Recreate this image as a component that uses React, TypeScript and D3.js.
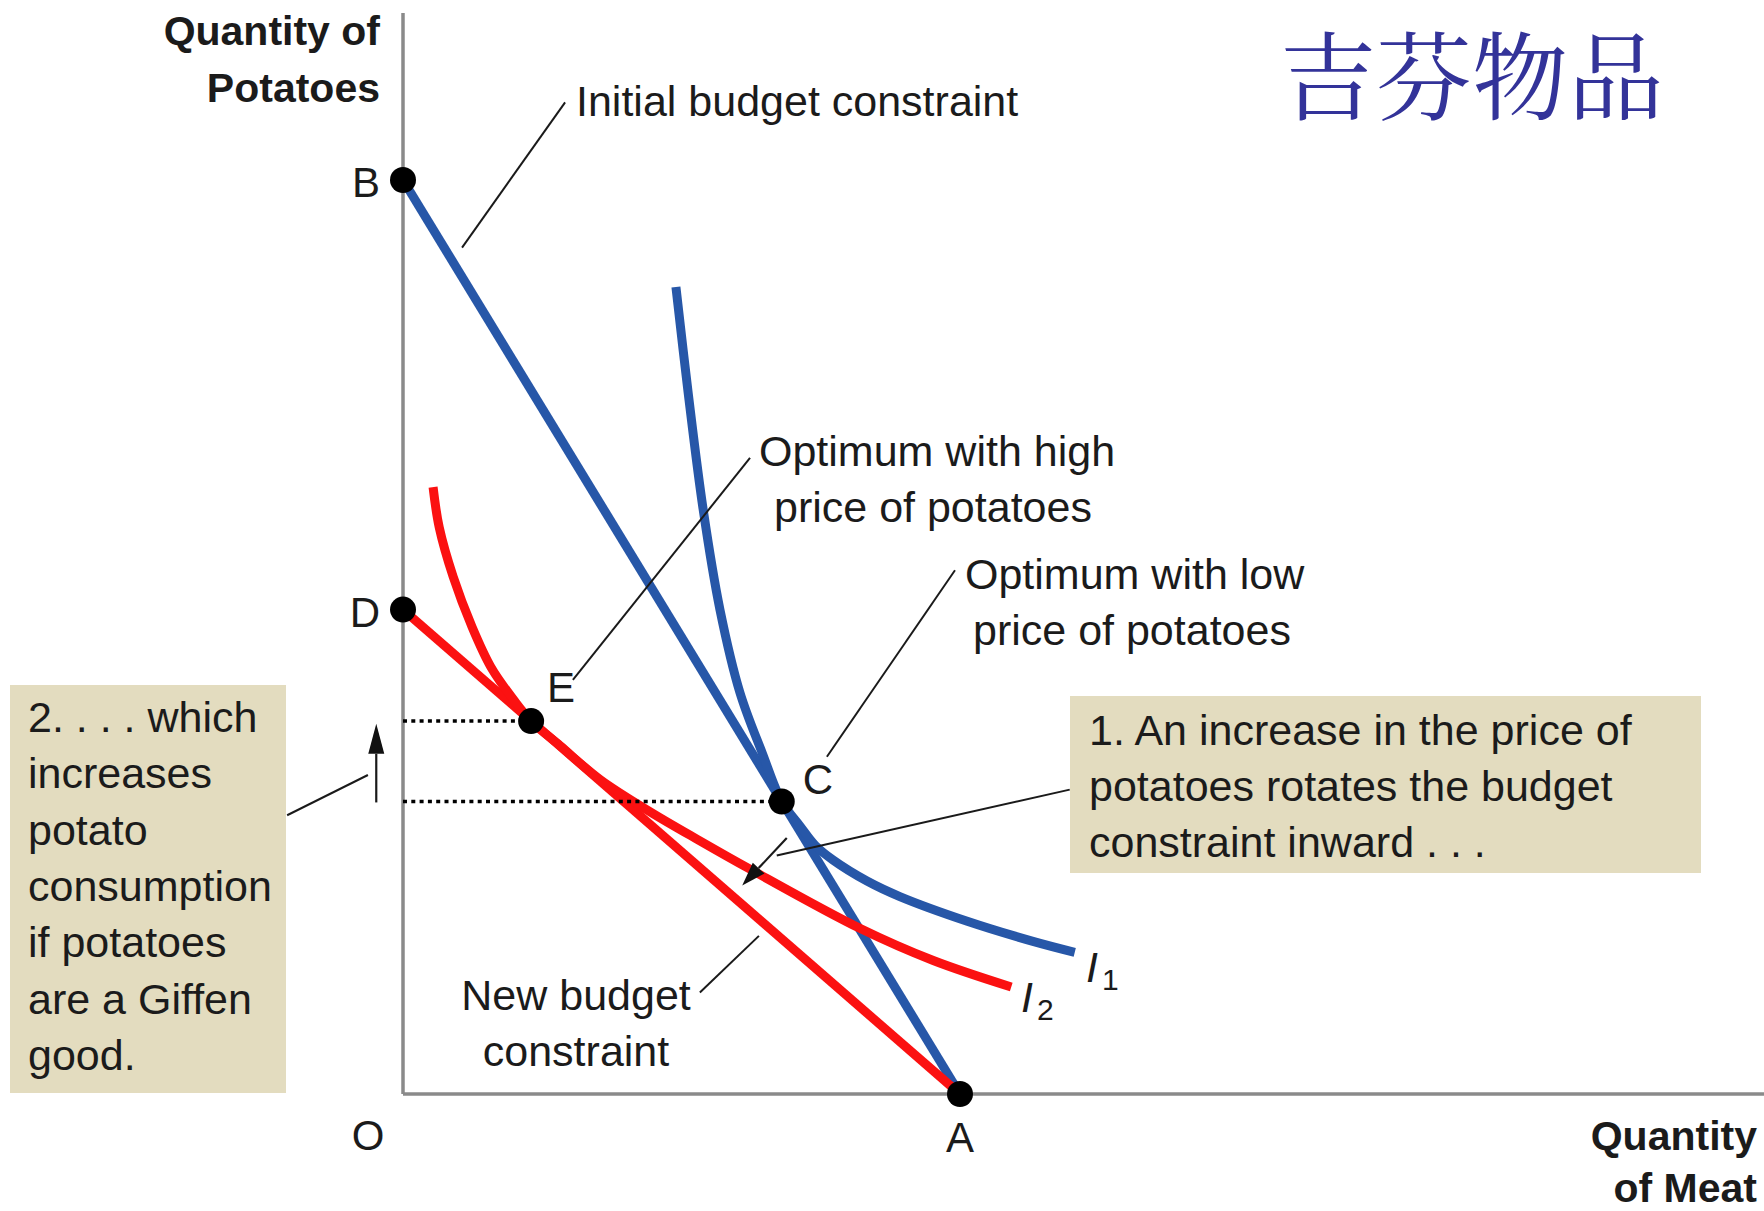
import React, { useEffect } from 'react';
import * as d3 from 'd3';

const W = 1764;
const H = 1211;

// ---- data (quantities, arbitrary units: A = 10 units of meat, B = 10 units of potatoes)
const initialBudget: [number, number][] = [[0, 10], [10, 0]];
const newBudget: [number, number][] = [[0, 5.3], [10, 0]];
const pointB: [number, number] = [0, 10];
const pointD: [number, number] = [0, 5.3];
const pointA: [number, number] = [10, 0];
const pointE: [number, number] = [2.3, 4.08];
const pointC: [number, number] = [6.8, 3.2];

const curveI1: [number, number][] = [
  [4.90, 8.83], [5.12, 7.67], [5.39, 6.39], [5.69, 5.30], [6.05, 4.39], [6.45, 3.73],
  [6.80, 3.20], [7.13, 2.93], [7.40, 2.72], [7.72, 2.56], [8.33, 2.33], [8.92, 2.16],
  [10.13, 1.89], [11.31, 1.67], [12.06, 1.55],
];
const curveI2: [number, number][] = [
  [0.54, 6.64], [0.65, 6.20], [0.90, 5.66], [1.24, 5.11], [1.58, 4.67], [1.99, 4.31],
  [2.30, 4.08], [2.82, 3.81], [3.54, 3.44], [4.43, 3.09], [5.33, 2.77], [6.23, 2.46],
  [8.21, 1.81], [9.52, 1.46], [10.92, 1.17],
];

// annotation leader lines (data units)
const leaderLines: [number, number][][] = [
  [[1.06, 9.26], [2.91, 10.85]],
  [[3.05, 4.53], [6.23, 6.96]],
  [[7.61, 3.69], [9.91, 5.73]],
  [[11.97, 3.33], [6.71, 2.61]],
  [[6.39, 1.73], [5.33, 1.11]],
  [[-2.08, 3.05], [-0.63, 3.49]],
];
const arrowLines: [number, number][][] = [
  [[6.89, 2.80], [6.09, 2.28]],
  [[-0.48, 3.19], [-0.48, 4.05]],
];

const box1Lines = ['1. An increase in the price of', 'potatoes rotates the budget', 'constraint inward . . .'];
const box2Lines = ['2. . . . which', 'increases', 'potato', 'consumption', 'if potatoes', 'are a Giffen', 'good.'];

const BLUE = '#2757a8';
const RED = '#fb1111';
const TXT = '#1b1b1b';
const FONT = "'Liberation Sans', Arial, sans-serif";

const x = d3.scaleLinear().domain([0, 10]).range([403, 960]);
const y = d3.scaleLinear().domain([0, 10]).range([1094, 180]);

const straight = d3.line<[number, number]>().x(d => x(d[0])).y(d => y(d[1]));
const smooth = d3
  .line<[number, number]>()
  .x(d => x(d[0]))
  .y(d => y(d[1]))
  .curve(d3.curveCatmullRom.alpha(0.5));

function arrowHead(from: [number, number], tip: [number, number], len: number, half: number) {
  const fx = x(from[0]), fy = y(from[1]);
  const tx = x(tip[0]), ty = y(tip[1]);
  const dx = tx - fx, dy = ty - fy;
  const L = Math.hypot(dx, dy);
  const ux = dx / L, uy = dy / L;
  const bx = tx - ux * len, by = ty - uy * len;
  const px = -uy, py = ux;
  return {
    base: [bx, by],
    pts: `${tx},${ty} ${bx + px * half},${by + py * half} ${bx - px * half},${by - py * half}`,
  };
}

export default function App() {
  useEffect(() => {
    document.body.style.margin = '0';
  }, []);

  const heads = [arrowHead(arrowLines[0][0], arrowLines[0][1], 24, 8), arrowHead(arrowLines[1][0], arrowLines[1][1], 30, 8)];

  const t = (s: string, px: number, py: number, opts: any = {}) => (
    <text
      x={px}
      y={py}
      fontFamily={FONT}
      fontSize={opts.size ?? 43}
      fontWeight={opts.bold ? 700 : 400}
      fontStyle={opts.italic ? 'italic' : 'normal'}
      textAnchor={opts.anchor ?? 'start'}
      fill={opts.fill ?? TXT}
    >
      {s}
    </text>
  );

  return (
    <svg width={W} height={H} viewBox={`0 0 ${W} ${H}`} style={{ position: 'absolute', left: 0, top: 0, background: '#fff' }}>
      <rect x={0} y={0} width={W} height={H} fill="#fff" />

      {/* boxes */}
      <rect x={10} y={685} width={276} height={408} fill="#e3dcbf" />
      <rect x={1070} y={696} width={631} height={177} fill="#e3dcbf" />

      {/* axes */}
      <line x1={x(0)} y1={y(0)} x2={x(0)} y2={13} stroke="#8a8a8a" strokeWidth={3.5} />
      <line x1={x(0)} y1={y(0)} x2={W} y2={y(0)} stroke="#8a8a8a" strokeWidth={3.5} />

      {/* budget lines and indifference curves */}
      <path d={straight(initialBudget) ?? ''} fill="none" stroke={BLUE} strokeWidth={9} />
      <path d={smooth(curveI1) ?? ''} fill="none" stroke={BLUE} strokeWidth={9} />
      <path d={straight(newBudget) ?? ''} fill="none" stroke={RED} strokeWidth={9} />
      <path d={smooth(curveI2) ?? ''} fill="none" stroke={RED} strokeWidth={9} />

      {/* dotted guides */}
      <line x1={x(0)} y1={y(pointE[1])} x2={x(pointE[0])} y2={y(pointE[1])} stroke="#000" strokeWidth={3.5} strokeDasharray="4 4.3" />
      <line x1={x(0)} y1={y(pointC[1])} x2={x(pointC[0])} y2={y(pointC[1])} stroke="#000" strokeWidth={3.5} strokeDasharray="4 4.3" />

      {/* leaders */}
      {leaderLines.map((l, i) => (
        <path key={i} d={straight(l) ?? ''} stroke="#1a1a1a" strokeWidth={2} fill="none" />
      ))}
      {arrowLines.map((l, i) => (
        <g key={'a' + i}>
          <line x1={x(l[0][0])} y1={y(l[0][1])} x2={heads[i].base[0]} y2={heads[i].base[1]} stroke="#1a1a1a" strokeWidth={2.2} />
          <polygon points={heads[i].pts} fill="#111" />
        </g>
      ))}

      {/* points */}
      {[pointB, pointD, pointE, pointC, pointA].map((p, i) => (
        <circle key={i} cx={x(p[0])} cy={y(p[1])} r={13} fill="#000" />
      ))}

      {/* point labels */}
      {t('B', x(pointB[0]) - 23, y(pointB[1]) + 17, { size: 42, anchor: 'end' })}
      {t('D', x(pointD[0]) - 23, y(pointD[1]) + 17, { size: 42, anchor: 'end' })}
      {t('E', x(pointE[0]) + 16, y(pointE[1]) - 19, { size: 42 })}
      {t('C', x(pointC[0]) + 21, y(pointC[1]) - 8, { size: 42 })}
      {t('A', x(pointA[0]), y(0) + 58, { size: 42, anchor: 'middle' })}
      {t('O', x(0) - 35, y(0) + 56, { size: 42, anchor: 'middle' })}

      {/* axis titles */}
      {t('Quantity of', 380, 45, { bold: true, size: 41, anchor: 'end' })}
      {t('Potatoes', 380, 102, { bold: true, size: 41, anchor: 'end' })}
      {t('Quantity', 1757, 1150, { bold: true, size: 41, anchor: 'end' })}
      {t('of Meat', 1757, 1202, { bold: true, size: 41, anchor: 'end' })}

      {/* annotations */}
      {t('Initial budget constraint', 576, 116)}
      {t('Optimum with high', 759, 466)}
      {t('price of potatoes', 774, 522)}
      {t('Optimum with low', 965, 589)}
      {t('price of potatoes', 973, 645)}
      {t('New budget', 576, 1010, { anchor: 'middle' })}
      {t('constraint', 576, 1066, { anchor: 'middle' })}

      {box1Lines.map((s, i) => <React.Fragment key={'b1' + i}>{t(s, 1089, 745 + i * 56)}</React.Fragment>)}
      {box2Lines.map((s, i) => <React.Fragment key={'b2' + i}>{t(s, 28, 732 + i * 56.3)}</React.Fragment>)}

      {/* curve labels */}
      <text x={1086} y={982} fontFamily={FONT} fontSize={43} fontStyle="italic" fill={TXT}>
        I
        <tspan fontSize={30} fontStyle="normal" dx={4} dy={8}>1</tspan>
      </text>
      <text x={1021} y={1012} fontFamily={FONT} fontSize={43} fontStyle="italic" fill={TXT}>
        I
        <tspan fontSize={30} fontStyle="normal" dx={4} dy={8}>2</tspan>
      </text>

      {/* title */}
      <text x={1280} y={112} fontFamily="'Noto Serif CJK SC', 'Noto Sans CJK SC', sans-serif" fontSize={96} fill="#333399">
        吉芬物品
      </text>
    </svg>
  );
}
